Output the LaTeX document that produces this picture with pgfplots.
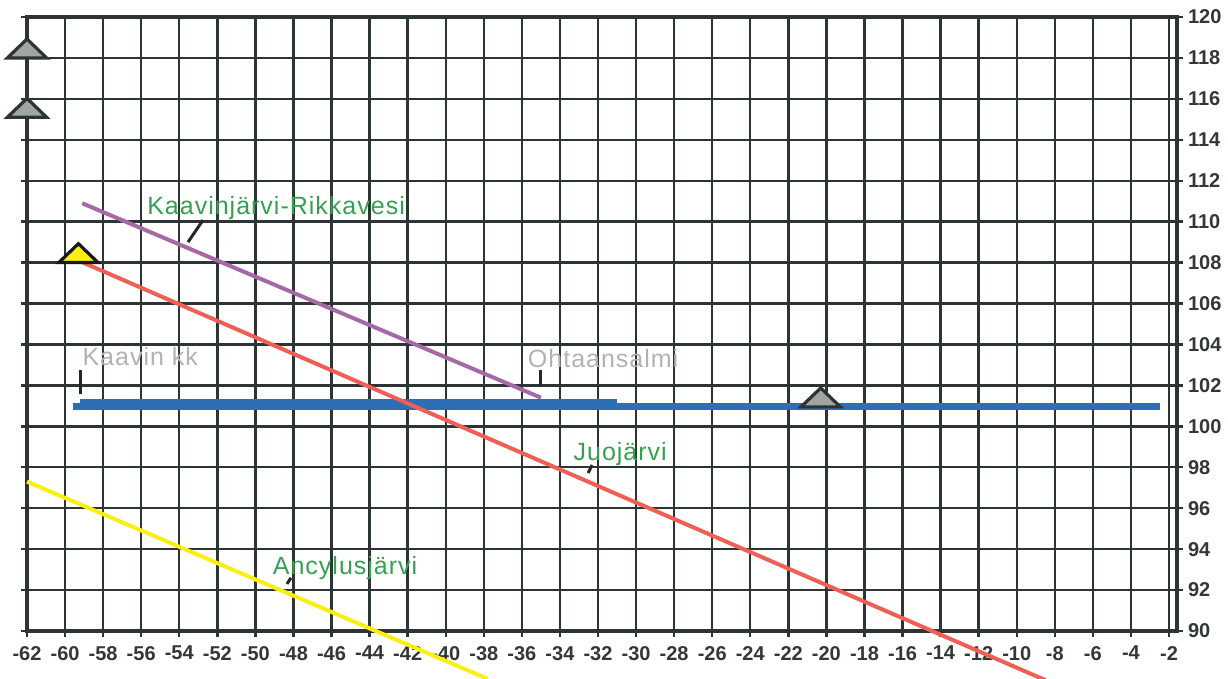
\documentclass[border=0pt]{standalone}
\usepackage{pgfplots}
\pgfplotsset{compat=1.18}
\usepackage{fontspec}
\setmainfont{Liberation Sans}
\newfontfamily\lblfont[LetterSpace=4]{Liberation Sans}
\definecolor{gridc}{RGB}{45,52,52}
\definecolor{tickc}{RGB}{50,55,55}
\definecolor{lblgreen}{RGB}{55,160,80}
\definecolor{lblgray}{RGB}{175,178,182}
\definecolor{redl}{RGB}{240,95,85}
\definecolor{purplel}{RGB}{165,105,165}
\definecolor{yellowl}{RGB}{250,238,20}
\definecolor{bluel}{RGB}{45,110,180}
\definecolor{trigray}{RGB}{160,165,160}
\begin{document}
\begin{tikzpicture}
\path[use as bounding box] (-13.5pt,-24pt) rectangle (600.5pt,315.5pt);
\begin{axis}[
  at={(0,0)}, anchor=south west, scale only axis,
  width=575pt, height=307pt,
  xmin=-62, xmax=-1.58, ymin=90, ymax=120,
  xtick={-62,-60,...,-2},
  xticklabels={-62,-60,-58,-56,-54,-52,-50,-48,-46,-44,-42,-40,-38,-36,-34,-32,-30,-28,-26,-24,-22,-20,-18,-16,-14,-12,-10,-8,-6,-4,-2},
  ytick={90,92,...,120},
  minor tick num=0,
  xmajorgrids, ymajorgrids,
  major grid style={line width=1.2pt, color=gridc},
  axis line style={line width=1.8pt, color=gridc},
  tick style={line width=1.2pt, color=gridc},
  tick align=outside, major tick length=3pt,
  xtick pos=bottom, ytick pos=both, yticklabel pos=right,
  /pgf/number format/assume math mode=true,
  ticklabel style={font=\bfseries\fontsize{10}{11}\selectfont, text=tickc},
  yticklabel style={anchor=west, xshift=-1pt},
  xticklabel style={yshift=-1pt},
  clip=false,
]
% lines
\addplot[yellowl, line width=2pt] coordinates {(-62,97.3) (-37.8,87.66)};
\addplot[purplel, line width=2pt] coordinates {(-59.1,110.9) (-35.0,101.4)};
\addplot[bluel, line width=3.5pt] coordinates {(-59.6,100.95) (-2.5,100.95)};
\addplot[bluel, line width=3.5pt] coordinates {(-59.2,101.15) (-31.0,101.15)};
\addplot[redl, line width=2pt] coordinates {(-59.3,108.1) (-8.5,87.6)};
% leaders
\addplot[black!85, line width=1.5pt] coordinates {(-53.54,109.0) (-52.75,110.08)};
\addplot[black!85, line width=1.5pt] coordinates {(-59.2,101.6) (-59.2,102.75)};
\addplot[black!85, line width=1.5pt] coordinates {(-35.0,101.9) (-35.0,102.75)};
\addplot[black!85, line width=1.5pt] coordinates {(-32.52,97.72) (-32.31,98.11)};
\addplot[black!85, line width=1.5pt] coordinates {(-48.34,92.3) (-48.13,92.6)};
% triangles
\addplot[only marks, mark=triangle*, mark size=6.3pt,
  mark options={xscale=1.8, yshift=3.15pt, draw=gridc, fill=trigray, line width=1.6pt}]
  coordinates {(-62,118) (-62,115.1) (-20.3,100.95)};
\addplot[only marks, mark=triangle*, mark size=6.3pt,
  mark options={xscale=1.8, yshift=3.15pt, draw=black!90, fill=yellowl, line width=1.6pt}]
  coordinates {(-59.3,108.0)};
% labels
\node[anchor=west, inner sep=0pt, text=lblgreen, font=\lblfont\fontsize{12.5}{13}\selectfont] at (axis cs:-55.7,110.66) {Kaavinjärvi-Rikkavesi};
\node[anchor=west, inner sep=0pt, text=lblgray, font=\lblfont\fontsize{12.5}{13}\selectfont] at (axis cs:-59.1,103.4) {Kaavin kk};
\node[anchor=west, inner sep=0pt, text=lblgray, font=\lblfont\fontsize{12.5}{13}\selectfont] at (axis cs:-35.7,103.3) {Ohtaansalmi};
\node[anchor=west, inner sep=0pt, text=lblgreen, font=\lblfont\fontsize{12.5}{13}\selectfont] at (axis cs:-33.3,98.65) {Juojärvi};
\node[anchor=west, inner sep=0pt, text=lblgreen, font=\lblfont\fontsize{12.5}{13}\selectfont] at (axis cs:-49.1,93.1) {Ancylusjärvi};
\end{axis}
\end{tikzpicture}
\end{document}
